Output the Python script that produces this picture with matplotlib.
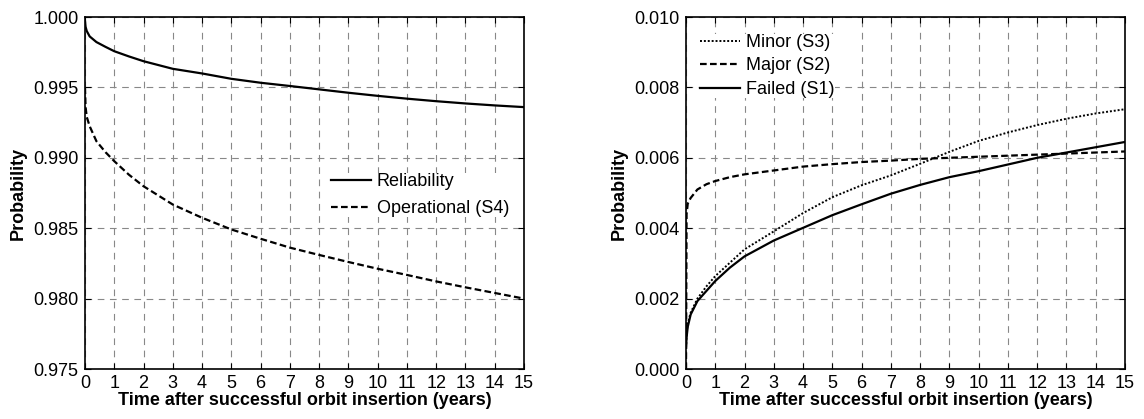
import matplotlib.pyplot as plt
from matplotlib.ticker import MultipleLocator, FormatStrFormatter

plt.rcParams['font.family'] = ['Liberation Sans', 'DejaVu Sans']

# time grid (years) for the read-off points
t = [0, 0.02, 0.06, 0.16, 0.39, 0.7, 1, 1.5, 2, 3, 4, 5, 6, 7, 8, 9, 10,
     11, 12, 13, 14, 15]

reliability = [0.9997, 0.9993, 0.9990, 0.99862, 0.99822, 0.99788, 0.99757,
               0.99720, 0.99686, 0.99632, 0.99599, 0.99561, 0.99533, 0.99510,
               0.99486, 0.99462, 0.99440, 0.99420, 0.99402, 0.99386, 0.99372,
               0.99360]
operational = [0.9950, 0.9936, 0.9929, 0.99224, 0.99118, 0.99040, 0.98976,
               0.98880, 0.98798, 0.98668, 0.98574, 0.98491, 0.98425, 0.98362,
               0.98310, 0.98260, 0.98212, 0.98168, 0.98122, 0.98080, 0.98040,
               0.98000]

minor = [0.0006, 0.0010, 0.0013, 0.0016, 0.0020, 0.00235, 0.00264, 0.00302,
         0.00340, 0.00391, 0.00443, 0.00488, 0.00522, 0.00550, 0.00583,
         0.00617, 0.00648, 0.00672, 0.00693, 0.00711, 0.00726, 0.00738]
major = [0.0, 0.0044, 0.0047, 0.00486, 0.00510, 0.00525, 0.00534, 0.00545,
         0.00553, 0.00564, 0.00575, 0.00582, 0.00588, 0.00592, 0.00597,
         0.00600, 0.00603, 0.00606, 0.00609, 0.00612, 0.00615, 0.00618]
failed = [0.0006, 0.0009, 0.0012, 0.00155, 0.00193, 0.00222, 0.00250,
          0.00288, 0.00320, 0.00365, 0.00401, 0.00437, 0.00468, 0.00498,
          0.00523, 0.00545, 0.00562, 0.00581, 0.00600, 0.00615, 0.00630,
          0.00645]

fig = plt.figure(figsize=(11.44, 4.19), dpi=100)
ax1 = fig.add_axes([85 / 1144, 50 / 419, 439 / 1144, 352 / 419])
ax2 = fig.add_axes([686 / 1144, 50 / 419, 439 / 1144, 352 / 419])

ax1.plot(t, reliability, '-', color='black', lw=1.6, label='Reliability')
ax1.plot(t, operational, color='black', lw=1.6, ls=(0, (3, 1.5)),
         label='Operational (S4)')
ax1.set_ylim(0.975, 1.0)
ax1.yaxis.set_major_locator(MultipleLocator(0.005))
ax1.yaxis.set_major_formatter(FormatStrFormatter('%.3f'))
leg1 = ax1.legend(loc='center left', bbox_to_anchor=(0.56, 0.493),
                  fontsize=13, handlelength=2.2, handletextpad=0.33,
                  labelspacing=0.55, borderpad=0, borderaxespad=0,
                  facecolor='white', edgecolor='none', framealpha=1,
                  fancybox=False)

ax2.plot(t, minor, color='black', lw=1.4, ls=(0, (1, 1)), label='Minor (S3)')
ax2.plot(t, major, color='black', lw=1.6, ls=(0, (3, 1.5)), label='Major (S2)')
ax2.plot(t, failed, '-', color='black', lw=1.6, label='Failed (S1)')
ax2.set_ylim(0, 0.010)
ax2.yaxis.set_major_locator(MultipleLocator(0.002))
ax2.yaxis.set_major_formatter(FormatStrFormatter('%.3f'))
leg2 = ax2.legend(loc='center left', bbox_to_anchor=(0.033, 0.861),
                  fontsize=13, handlelength=2.2, handletextpad=0.33,
                  labelspacing=0.36, borderpad=0, borderaxespad=0,
                  facecolor='white', edgecolor='none', framealpha=1,
                  fancybox=False)

for ax in (ax1, ax2):
    ax.set_xlim(0, 15)
    ax.xaxis.set_major_locator(MultipleLocator(1))
    ax.grid(True, color='#888888', ls=(0, (6, 5)), lw=0.8)
    ax.tick_params(direction='in', top=True, right=True, labelsize=13,
                   length=4, pad=4.5)
    ax.set_xlabel('Time after successful orbit insertion (years)',
                  fontweight='bold', fontsize=13, labelpad=0)
    ax.set_ylabel('Probability', fontweight='bold', fontsize=13, labelpad=5)
    for s in ax.spines.values():
        s.set_linewidth(1.2)

fig.savefig('out.png', dpi=100)
